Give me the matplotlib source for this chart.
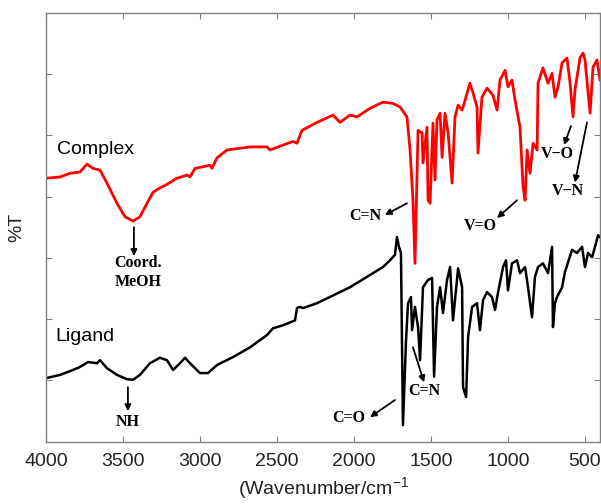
import numpy as np
import matplotlib
matplotlib.use("Agg")
import matplotlib.pyplot as plt

plt.rcParams['font.family'] = ['Liberation Sans', 'DejaVu Sans']
plt.rcParams['mathtext.default'] = 'regular'

# complex spectrum (wavenumber, %T offset units)
wn_complex = [3994, 3909, 3844, 3779, 3734, 3695, 3649, 3604, 3539, 3487, 3435, 3390,
              3344, 3305, 3260, 3214, 3149, 3084, 3065, 3032, 2935, 2922, 2890, 2825,
              2675, 2565, 2545, 2461, 2396, 2370, 2338, 2240, 2136, 2091, 2026, 1980,
              1896, 1812, 1747, 1701, 1656, 1636, 1617, 1604, 1584, 1558, 1552, 1526,
              1519, 1506, 1487, 1474, 1461, 1441, 1428, 1409, 1389, 1363, 1344, 1324,
              1298, 1279, 1247, 1227, 1201, 1195, 1169, 1136, 1097, 1071, 1052, 1019,
              1000, 974, 954, 922, 902, 889, 876, 857, 837, 811, 805, 773, 740, 714,
              695, 675, 649, 617, 597, 578, 565, 532, 513, 500, 467, 448, 422, 402]
t_complex = [43.0, 43.2, 43.8, 44.0, 45.3, 44.6, 44.3, 42.2, 38.9, 36.7, 36.0, 36.7,
             38.9, 40.7, 41.4, 42.0, 43.0, 43.5, 43.2, 44.6, 45.1, 44.6, 46.3, 47.6,
             48.1, 48.1, 47.6, 48.4, 49.0, 48.7, 50.8, 52.1, 53.3, 52.1, 53.3, 53.0,
             54.4, 55.4, 55.2, 54.6, 53.0, 47.6, 39.4, 29.1, 50.8, 50.4, 45.5, 51.3,
             39.4, 38.9, 52.0, 42.7, 52.5, 53.6, 46.4, 53.6, 50.4, 42.2, 53.0, 54.9,
             54.1, 55.7, 58.5, 56.9, 54.6, 47.1, 56.2, 57.7, 56.5, 54.1, 59.0, 60.6,
             57.9, 59.0, 55.7, 51.3, 41.5, 39.4, 47.6, 43.8, 48.7, 47.6, 58.5, 61.0,
             58.5, 60.1, 56.2, 57.9, 61.8, 62.6, 58.5, 53.0, 57.4, 62.7, 63.4, 62.3,
             53.6, 61.1, 62.3, 59.0]

# ligand spectrum
wn_ligand = [3994, 3909, 3825, 3779, 3727, 3669, 3649, 3604, 3539, 3474, 3435, 3390,
             3325, 3260, 3214, 3175, 3130, 3097, 3065, 3000, 2948, 2890, 2851, 2786,
             2675, 2565, 2526, 2461, 2383, 2370, 2351, 2331, 2240, 2026, 1812, 1766,
             1734, 1721, 1708, 1695, 1688, 1682, 1662, 1649, 1630, 1623, 1604, 1584,
             1571, 1552, 1519, 1493, 1480, 1461, 1441, 1422, 1396, 1376, 1357, 1324,
             1298, 1292, 1272, 1259, 1233, 1201, 1182, 1162, 1136, 1104, 1084, 1065,
             1032, 1013, 1000, 974, 941, 922, 889, 870, 844, 825, 805, 773, 740, 714,
             708, 695, 682, 649, 630, 584, 552, 519, 500, 480, 454, 435, 415, 396]
t_ligand = [10.4, 10.9, 11.7, 12.2, 13.0, 12.8, 13.3, 12.0, 10.9, 10.2, 10.1, 10.9,
            12.8, 13.7, 13.3, 11.7, 12.8, 13.7, 12.8, 11.2, 11.2, 12.5, 13.0, 13.8,
            15.4, 17.4, 18.5, 19.0, 19.8, 21.8, 22.0, 21.8, 22.6, 25.2, 28.5, 29.6,
            30.5, 33.4, 31.8, 30.8, 15.4, 2.7, 16.6, 22.6, 23.6, 18.2, 22.0, 18.7,
            13.3, 25.2, 26.4, 26.7, 10.6, 22.0, 25.2, 21.0, 26.4, 28.5, 19.8, 28.3,
            25.2, 8.9, 7.3, 17.1, 22.0, 22.6, 18.2, 23.1, 24.4, 23.6, 21.5, 24.3,
            28.5, 29.6, 24.7, 29.1, 29.6, 27.5, 28.5, 25.2, 20.3, 26.9, 28.5, 29.1,
            27.5, 31.8, 18.7, 22.6, 23.6, 25.2, 27.7, 31.3, 30.8, 31.8, 28.5, 30.8,
            30.1, 31.8, 33.7, 33.2]

# band labels: text, text pos, arrow tail, arrow head
band_labels = ["Coord.\nMeOH", "NH", "C=O", "C=N", "C=N", "V=O", "V\u2212O", "V\u2212N"]
label_pos = [(3403, 27.6), (3468, 3.2), (2032, 3.9), (1545, 8.3), (1928, 36.8),
             (1182, 35.2), (681, 46.9), (610, 40.9)]
arrow_tail = [(3429, 35.0), (3468, 8.9), (1734, 6.8), (1617, 15.4), (1656, 38.9),
              (941, 39.4), (591, 51.5), (487, 52.1)]
arrow_head = [(3429, 30.3), (3468, 5.0), (1896, 4.0), (1545, 9.7), (1799, 37.0),
              (1071, 36.5), (636, 48.4), (565, 42.3)]

fig = plt.figure(figsize=(6.01, 5.04), dpi=100)
ax = fig.add_axes([0.0765, 0.1236, 0.9225, 0.8512])

ax.plot(wn_complex, t_complex, color='#ff0000', lw=2.0)
ax.plot(wn_ligand, t_ligand, color='black', lw=1.8)

ax.text(3929, 47.6, "Complex", fontsize=14, ha='left', va='center')
ax.text(3942, 17.1, "Ligand", fontsize=14, ha='left', va='center')

for lab, pos, tail, head in zip(band_labels, label_pos, arrow_tail, arrow_head):
    ax.annotate("", xy=head, xytext=tail,
                arrowprops=dict(arrowstyle='-|>', lw=1.3, color='black',
                                mutation_scale=9, shrinkA=0, shrinkB=0))
    ax.text(pos[0], pos[1], lab, fontsize=11.5, fontweight='bold',
            family='Liberation Serif', ha='center', va='center', linespacing=1.25)

ax.set_xlim(4000, 400)
ax.set_ylim(0, 70)
ax.set_xticks([4000, 3500, 3000, 2500, 2000, 1500, 1000, 500])
ax.set_yticks([10, 20, 30, 40, 50, 60])
ax.set_yticklabels([])
ax.tick_params(direction='in', top=True, right=True, length=4, width=0.8,
               colors='#808080', labelcolor='#222222', labelsize=14, pad=8)
for s in ax.spines.values():
    s.set_color('#808080')
    s.set_linewidth(1.0)

ax.set_ylabel("%T", fontsize=14, color='#222222')
ax.yaxis.set_label_coords(-0.038, 0.5)
ax.set_xlabel("(Wavenumber/cm$^{-1}$", fontsize=14, color='#222222', labelpad=4)

fig.savefig("out.png", dpi=100)
